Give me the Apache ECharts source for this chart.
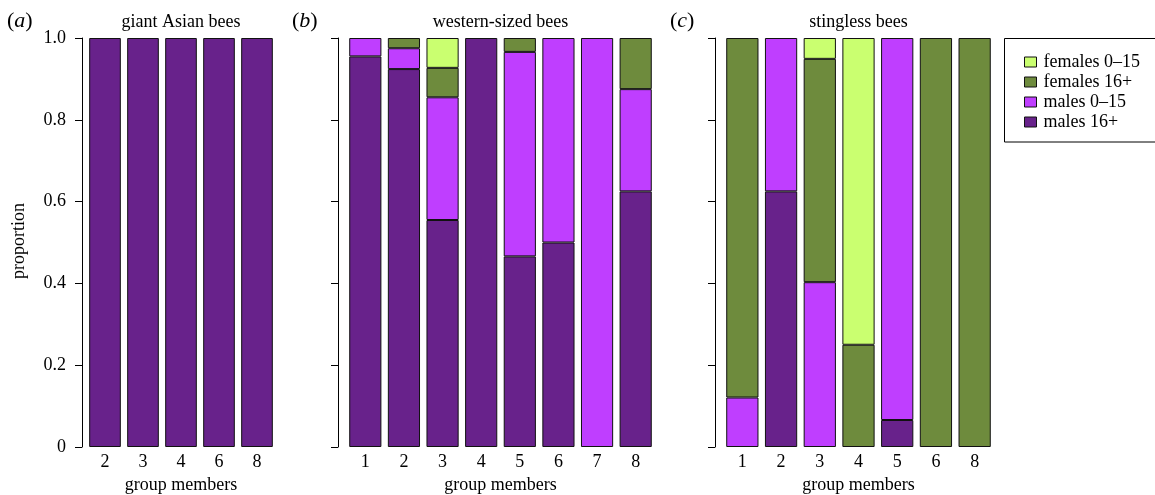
<!DOCTYPE html>
<html>
<head>
<meta charset="utf-8">
<script src="https://cdn.jsdelivr.net/npm/echarts@6/dist/echarts.min.js"></script>
<style>html,body{margin:0;padding:0;background:#fff;}#c{width:1155px;height:495px;}</style>
</head>
<body>
<div id="c"></div>
<script>
// ---- data ----
const seriesNames = ['females 0\u201315', 'females 16+', 'males 0\u201315', 'males 16+'];
const colors = ['#CAFF70', '#6E8B3D', '#BF3EFF', '#68228B'];
const panelTitles = ['giant Asian bees', 'western-sized bees', 'stingless bees'];
const panelLetters = ['a', 'b', 'c'];
const yTicks = [0, 0.2, 0.4, 0.6, 0.8, 1.0];

const catsA = ['2', '3', '4', '6', '8'];
const aMales16 = [1, 1, 1, 1, 1];
const aMales0 = [null, null, null, null, null];
const aFem16 = [null, null, null, null, null];
const aFem0 = [null, null, null, null, null];

const catsB = ['1', '2', '3', '4', '5', '6', '7', '8'];
const bMales16 = [0.955, 0.924, 0.555, 1, 0.466, 0.5, null, 0.625];
const bMales0 = [0.045, 0.051, 0.3, null, 0.5, 0.5, 1, 0.25];
const bFem16 = [null, 0.025, 0.072, null, 0.034, null, null, 0.125];
const bFem0 = [null, null, 0.073, null, null, null, null, null];

const catsC = ['1', '2', '3', '4', '5', '6', '8'];
const cMales16 = [null, 0.625, null, null, 0.066, null, null];
const cMales0 = [0.121, 0.375, 0.403, null, 0.934, null, null];
const cFem16 = [0.879, null, 0.546, 0.25, null, 1, 1];
const cFem0 = [null, null, 0.051, 0.75, null, null, null];

// ---- layout ----
const FONT = 'Liberation Serif';
const grids = [
  {left: 86, top: 38, width: 190, height: 409, outerBoundsMode: 'none', containLabel: false},
  {left: 346, top: 38, width: 309, height: 409, outerBoundsMode: 'none', containLabel: false},
  {left: 723, top: 38, width: 271, height: 409, outerBoundsMode: 'none', containLabel: false}
];
const yOffsets = [4, 8, 8];
const cats = [catsA, catsB, catsC];
// stack order bottom -> top: males 16+, males 0-15, females 16+, females 0-15
const panelData = [
  [aMales16, aMales0, aFem16, aFem0],
  [bMales16, bMales0, bFem16, bFem0],
  [cMales16, cMales0, cFem16, cFem0]
];
const stackOrderIdx = [3, 2, 1, 0]; // index into seriesNames/colors

const chart = echarts.init(document.getElementById('c'), null, {renderer: 'canvas'});

const xAxis = cats.map((c, i) => ({
  type: 'category', gridIndex: i, data: c,
  axisLine: {show: false}, axisTick: {show: false},
  axisLabel: {color: '#000', fontFamily: FONT, fontSize: 18, margin: 6},
  name: 'group members', nameLocation: 'middle', nameGap: 27,
  nameTextStyle: {color: '#000', fontFamily: FONT, fontSize: 18}
}));

const yAxis = [0, 1, 2].map(i => ({
  type: 'value', gridIndex: i, min: 0, max: 1, interval: 0.2,
  offset: yOffsets[i],
  splitLine: {show: false},
  axisLine: {show: true, lineStyle: {color: '#000', width: 1}},
  axisTick: {show: true, length: 7, lineStyle: {color: '#000', width: 1}},
  axisLabel: {
    show: i === 0, color: '#000', fontFamily: FONT, fontSize: 18, margin: 16,
    formatter: v => (v === 0 ? '0' : v.toFixed(1))
  }
}));

const series = [];
for (let p = 0; p < 3; p++) {
  for (let k = 0; k < 4; k++) {
    const idx = stackOrderIdx[k];
    series.push({
      type: 'bar', name: seriesNames[idx], xAxisIndex: p, yAxisIndex: p,
      stack: 'p' + p, data: panelData[p][k], barWidth: '83.3%',
      itemStyle: {color: colors[idx], borderColor: '#111', borderWidth: 1},
      emphasis: {disabled: true}, animation: false
    });
  }
}

const graphic = [];
const letterX = [7, 292, 670];
panelTitles.forEach((t, i) => {
  graphic.push({
    type: 'text', x: grids[i].left + grids[i].width / 2, y: 22,
    style: {text: t, font: '18px "' + FONT + '"', fill: '#000', align: 'center', verticalAlign: 'middle'}
  });
  graphic.push({
    type: 'text', x: letterX[i], y: 21,
    style: {
      text: '{p|(}{i|' + panelLetters[i] + '}{p|)}', align: 'left', verticalAlign: 'middle',
      rich: {
        p: {fontFamily: FONT, fontSize: 22, fill: '#000'},
        i: {fontFamily: FONT, fontSize: 22, fontStyle: 'italic', fill: '#000'}
      }
    }
  });
});
graphic.push({
  type: 'text', x: 19, y: 241, rotation: Math.PI / 2,
  style: {text: 'proportion', font: '18px "' + FONT + '"', fill: '#000', align: 'center', verticalAlign: 'middle'}
});
graphic.push({
  type: 'rect', shape: {x: 1004.5, y: 38.5, width: 170, height: 103.5},
  style: {fill: 'none', stroke: '#000', lineWidth: 1}, z: 10
});

chart.setOption({
  animation: false,
  backgroundColor: '#fff',
  grid: grids,
  xAxis: xAxis,
  yAxis: yAxis,
  series: series,
  legend: {
    data: seriesNames, orient: 'vertical', left: 1019, top: 47,
    itemWidth: 12, itemHeight: 10, itemGap: 0,
    icon: 'rect', selectedMode: false,
    itemStyle: {borderColor: '#111', borderWidth: 1},
    textStyle: {color: '#000', fontFamily: FONT, fontSize: 18, lineHeight: 20, padding: [0, 0, 0, 2]}
  },
  graphic: graphic
});
</script>
</body>
</html>
